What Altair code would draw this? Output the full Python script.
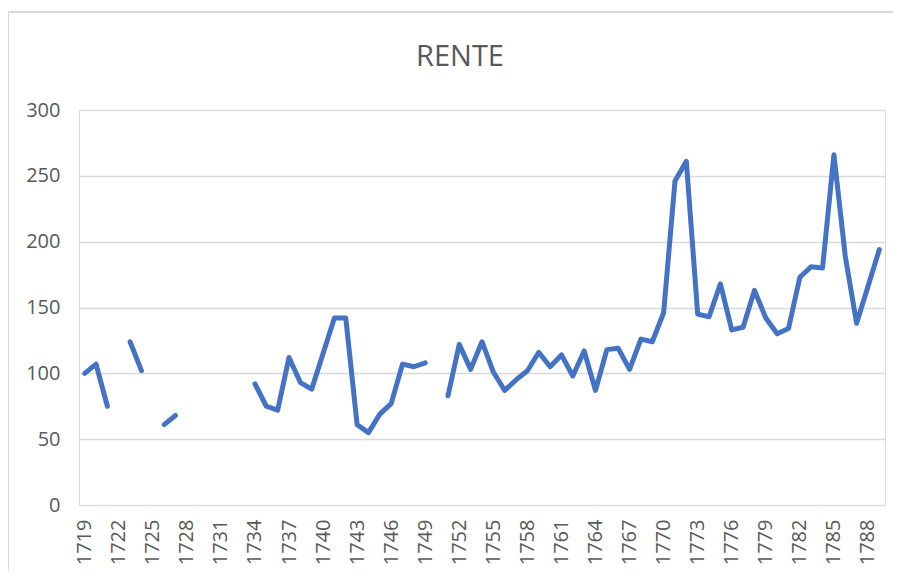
import altair as alt
import pandas as pd

years = list(range(1719, 1790))
rente = [
    100, 107, 75, None, 124, 102, None, 61, 68,
    None, None, None, None, None, None,
    92, 75, 72, 112, 93, 88, 115, 142, 142, 61, 55, 69, 77, 107, 105, 108,
    None,
    83, 122, 103, 124, 101, 87, 95, 102, 116, 105, 114, 98, 117, 87, 118, 119,
    103, 126, 124, 146, 246, 261, 145, 143, 168, 133, 135, 163, 142, 130, 134,
    173, 181, 180, 266, 189, 138, 166, 194,
]
tick_years = list(range(1719, 1790, 3))
y_ticks = [0, 50, 100, 150, 200, 250, 300]
title_text = ["RENTE"]

assert len(years) == len(rente)

# segment ids so that missing years break the line
seg_ids = []
seg = 0
for v in rente:
    if v is None:
        seg += 1
    seg_ids.append(seg)

df = pd.DataFrame({"year": years, "rente": rente, "seg": seg_ids})
df = df.dropna(subset=["rente"])

GRAY_TXT = "#595959"
GRID = "#d9d9d9"
FONT = "Open Sans"

line = alt.Chart(df).mark_line(
    color="#4472C4", strokeWidth=5, strokeCap="round", strokeJoin="round"
).encode(
    x=alt.X(
        "year:Q",
        scale=alt.Scale(domain=[1718.5, 1789.5], nice=False, zero=False),
        axis=alt.Axis(
            values=tick_years, format="d", labelAngle=-90, title=None,
            grid=False, ticks=False, domain=False, labelPadding=14,
            labelFont=FONT, labelFontSize=20, labelColor=GRAY_TXT,
            labelOverlap=False, labelFlush=False,
        ),
    ),
    y=alt.Y(
        "rente:Q",
        scale=alt.Scale(domain=[0, 300], nice=False),
        axis=alt.Axis(
            values=y_ticks, title=None, grid=True, gridColor=GRID,
            gridWidth=1.4, ticks=False, domain=False, labelPadding=19,
            labelFont=FONT, labelFontSize=20, labelColor=GRAY_TXT,
        ),
    ),
    detail="seg:N",
)

# light frame of the chart (top and left edges visible in the reference)
frame_top = alt.Chart(df).mark_rule(color=GRID, strokeWidth=2).encode(
    x=alt.value(-72), x2=alt.value(830), y=alt.value(-98)
)
frame_left = alt.Chart(df).mark_rule(color=GRID, strokeWidth=2).encode(
    x=alt.value(-71), y=alt.value(-99), y2=alt.value(470)
)

title = alt.Chart(pd.DataFrame({"t": title_text})).mark_text(
    font=FONT, fontSize=29, color=GRAY_TXT, align="center", baseline="middle"
).encode(text="t:N", x=alt.value(381), y=alt.value(-53))

chart = alt.layer(frame_top, frame_left, title, line).properties(
    width=806,
    height=395,
    autosize=alt.AutoSizeParams(type="none"),
    padding={"left": 71, "top": 102, "right": 8, "bottom": 66},
).configure_view(stroke=None).configure(background="white")

chart.save("out.html", embed_options={"renderer": "svg", "actions": False})
